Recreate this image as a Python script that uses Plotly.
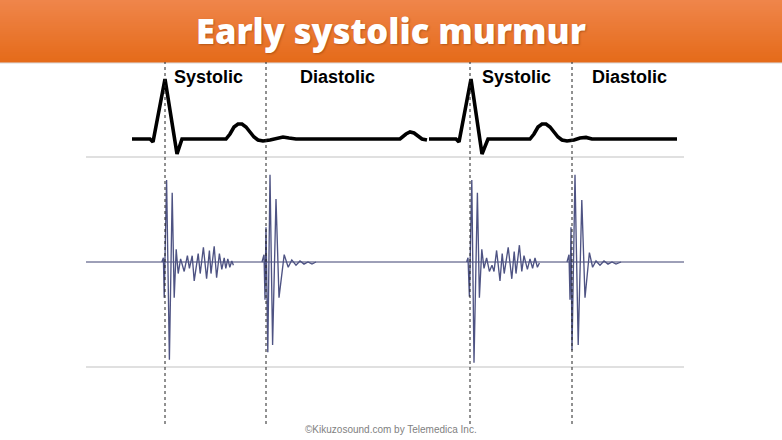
import plotly.graph_objects as go

# ---------------- data (time in ms, S1 of beat 1 at t = 0) ----------------
ecg_t_ms = [-82.5, -37.5, -30, 0, 30, 42.5, 152.5, 162.5, 172.5, 182.5, 192.5, 202.5,
            212.5, 222.5, 232.5, 245, 262.5, 280, 295, 310, 327.5, 587.5, 592.5, 602.5,
            612.5, 622.5, 632.5, 642.5, 655, None,
            660, 727.5, 735, 765, 792.5, 807.5, 912.5, 922.5, 932.5, 942.5, 952.5,
            962.5, 972.5, 982.5, 992.5, 1005, 1022.5, 1037.5, 1052.5, 1067.5, 1280]
ecg_mv = [0, 0, -0.075, 1.5, -0.375, 0, 0, 0.125, 0.3, 0.375, 0.375, 0.3,
          0.175, 0.05, -0.025, -0.05, -0.025, 0.025, 0.05, 0.025, 0, 0, 0.05, 0.125,
          0.175, 0.15, 0.075, 0, -0.025, None,
          0, 0, -0.075, 1.5, -0.375, 0, 0, 0.125, 0.3, 0.375, 0.375,
          0.3, 0.175, 0.05, -0.025, -0.05, -0.025, 0.025, 0.04, 0, 0]

# phonocardiogram: S1 + early systolic murmur, S2 (two beats)
pcg_t_ms = [-8, -4, -2, 4, 11, 18, 23, 28, 33, 39, 48, 56, 61, 68, 73, 83, 88, 96, 104,
            111, 115, 123, 129, 136, 142, 148, 152, 157, 162, 167, 171, None,
            242.5, 247.5, 250, 252.5, 257, 262.5, 269, 277.5, 285, 298, 308, 317, 327.5,
            337.5, 347.5, 357.5, 367.5, 377.5, None,
            754, 757.5, 761, 767, 772.5, 781, 786, 792, 797.5, 804, 811, 817.5, 822.5,
            829, 837.5, 843, 848, 858, 867, 873, 877.5, 886, 892, 897.5, 906, 912.5,
            919, 925, 931, 936, None,
            1005, 1010, 1012.5, 1015, 1017.5, 1025, 1033, 1042, 1050, 1061, 1069,
            1077.5, 1087.5, 1097.5, 1107.5, 1117.5, 1127.5, 1140]
pcg_amp = [0, 0.04, -0.34, 0.78, -0.93, 0.66, -0.34, 0.12, -0.11, 0.03, -0.09, 0.06,
           -0.06, 0.06, -0.18, 0.08, -0.11, 0.14, -0.16, 0.11, -0.11, 0.15, -0.15, 0.08,
           -0.07, 0.04, -0.06, 0.03, -0.05, 0.01, -0.03, None,
           0, 0.07, -0.36, 0.33, -0.86, 0.83, -0.79, 0.60, -0.34, 0.07, -0.05, 0.02,
           -0.03, 0.01, -0.02, 0, -0.02, 0, None,
           0, 0.04, -0.33, 0.78, -0.96, 0.66, -0.34, 0.12, -0.06, 0.04, -0.09, -0.03,
           -0.09, 0.11, -0.18, 0.08, -0.11, 0.14, -0.16, 0.10, -0.11, 0.16, -0.09, 0.06,
           -0.07, 0.03, -0.06, 0.04, -0.05, -0.01, None,
           0, 0.07, -0.36, 0.33, -0.84, 0.83, -0.79, 0.59, -0.34, 0.09, -0.05, 0.01,
           -0.03, 0.01, -0.02, 0, -0.02, 0]

phase_marks_ms = [0, 252.5, 762.5, 1017.5]
phase_labels = ["Systolic", "Diastolic", "Systolic", "Diastolic"]
label_t_ms = [17.5, 332.5, 787.5, 1062.5]
pcg_grid_amp = [-1, 0, 1]
pcg_grid_span_ms = [-197.5, 1297.5]

title_text = "Early systolic murmur"
credit_text = "©Kikuzosound.com by Telemedica Inc."

# ---------------- figure ----------------
W, H = 782, 440
fig = go.Figure()

fig.add_trace(go.Scatter(x=ecg_t_ms, y=ecg_mv, mode="lines", yaxis="y",
                         line=dict(color="#000000", width=3.6), connectgaps=False,
                         hoverinfo="skip", showlegend=False))
fig.add_trace(go.Scatter(x=pcg_t_ms, y=pcg_amp, mode="lines", yaxis="y2",
                         line=dict(color="#4e5383", width=1.35), connectgaps=False,
                         hoverinfo="skip", showlegend=False))

shapes = []
# header banner with vertical gradient
top = (239, 133, 74)
bot = (229, 107, 26)
n = 31
hb = 62 / H
for i in range(n):
    f = i / (n - 1)
    c = tuple(int(round(top[k] + (bot[k] - top[k]) * f)) for k in range(3))
    y1 = 1 - i * hb / n
    y0 = 1 - (i + 1) * hb / n - 0.001
    shapes.append(dict(type="rect", xref="paper", yref="paper", x0=0, x1=1, y0=y0, y1=y1,
                       fillcolor="rgb(%d,%d,%d)" % c, line=dict(width=0), layer="below"))
shapes.append(dict(type="rect", xref="paper", yref="paper", x0=0, x1=1,
                   y0=1 - hb - 2 / H, y1=1 - hb, fillcolor="rgba(0,0,0,0.08)",
                   line=dict(width=0), layer="below"))

# PCG reference lines
for a in pcg_grid_amp:
    shapes.append(dict(type="line", xref="x", yref="y2",
                       x0=pcg_grid_span_ms[0], x1=pcg_grid_span_ms[1], y0=a, y1=a,
                       line=dict(color="#3c4170" if a == 0 else "#d6d6d6",
                                 width=1 if a == 0 else 1.5),
                       layer="below"))

# phase boundary dotted lines
for t in phase_marks_ms:
    shapes.append(dict(type="line", xref="x", yref="paper", x0=t, x1=t,
                       y0=1 - 424 / H, y1=1 - 62 / H,
                       line=dict(color="#222222", width=1, dash="dot")))

annotations = [
    dict(text=title_text, xref="paper", yref="paper", x=0.5, y=1 - 31 / H,
         xanchor="center", yanchor="middle", showarrow=False,
         font=dict(family="Open Sans", size=34.5, color="white", weight=800,
                   shadow="1px 1px 2px rgba(120,50,0,0.45)")),
    dict(text=credit_text, xref="paper", yref="paper", x=390.5 / W, y=1 - 429 / H,
         xanchor="center", yanchor="middle", showarrow=False,
         font=dict(family="Liberation Sans, Arial", size=10, color="#7f7f7f")),
]
for t, lab in zip(label_t_ms, phase_labels):
    annotations.append(dict(text=lab, xref="x", yref="paper", x=t, y=1 - 77 / H,
                            xanchor="left", yanchor="middle", showarrow=False,
                            font=dict(family="Liberation Sans, Arial", size=18,
                                      color="#000000", weight="bold")))

# axes: ms along x, mV (ECG) and normalised amplitude (PCG)
x_range = [-412.5, 1542.5]
ecg_range = [-7.525, 3.475]
pcg_range = [-1.6952, 2.4952]

fig.update_layout(
    width=W, height=H, autosize=False,
    margin=dict(l=0, r=0, t=0, b=0),
    paper_bgcolor="white", plot_bgcolor="white",
    xaxis=dict(range=x_range, visible=False, fixedrange=True),
    yaxis=dict(range=ecg_range, visible=False, fixedrange=True),
    yaxis2=dict(range=pcg_range, visible=False, overlaying="y", fixedrange=True),
    shapes=shapes, annotations=annotations, showlegend=False,
)

fig.write_html("out.html", config={"displayModeBar": False})
